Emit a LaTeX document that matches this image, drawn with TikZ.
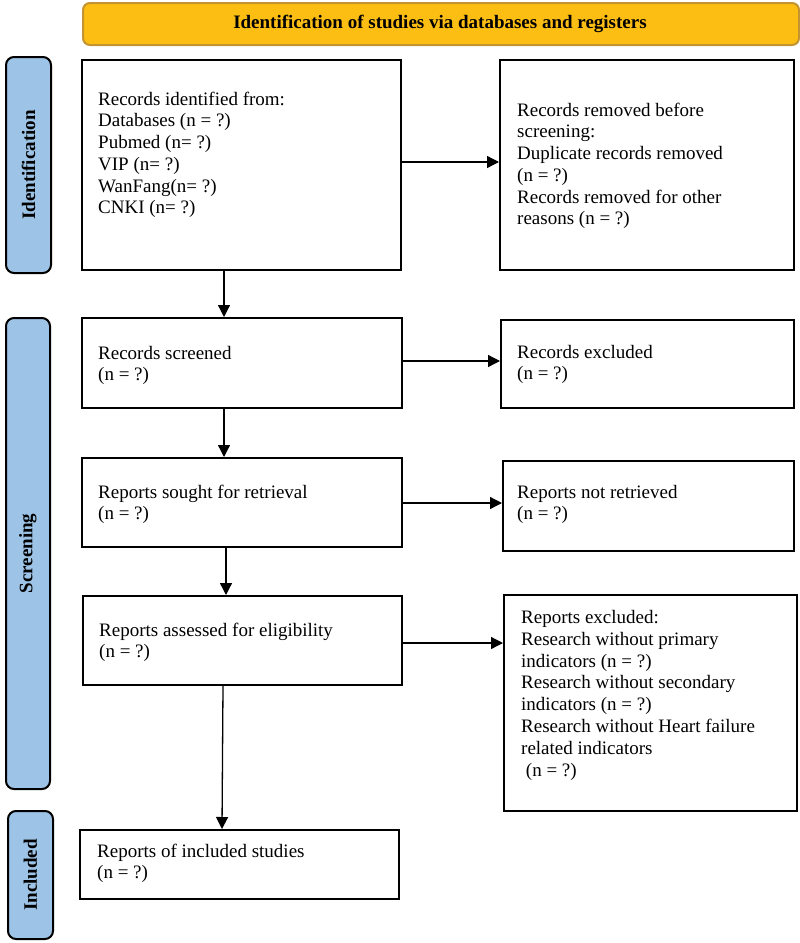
\documentclass[tikz,border=0pt]{standalone}
\usepackage{fontspec}
\setmainfont{Liberation Serif}
\usetikzlibrary{arrows.meta}
\definecolor{titlefill}{RGB}{253,190,20}
\definecolor{titledraw}{RGB}{195,148,48}
\definecolor{sidefill}{RGB}{157,195,230}
\tikzset{
  box/.style={draw=black, line width=2.2pt, fill=white, inner sep=0pt, anchor=north west},
  txt/.style={inner sep=0pt, anchor=north west, align=left, font=\fontsize{19}{21.7}\selectfont},
  side/.style={draw=black, line width=2pt, fill=sidefill, rounded corners=8pt, inner sep=0pt, anchor=north west},
  sidetxt/.style={rotate=90, font=\fontsize{19}{21.7}\selectfont\bfseries},
  arr/.style={line width=1.3pt, -{Triangle[length=12pt,width=12pt]}},
}
\newcommand{\fs}{\rule{0pt}{15pt}}
\begin{document}
\begin{tikzpicture}[x=1pt,y=-1pt]
\useasboundingbox (0,0) rectangle (800,943);
% title
\node[draw=titledraw, line width=2pt, fill=titlefill, rounded corners=7pt, minimum width=716pt, minimum height=42pt, inner sep=0pt, anchor=north west] (title) at (82,2) {};
\node[font=\fontsize{19}{21.7}\selectfont\bfseries] (titletxt) at (440,24) {Identification of studies via databases and registers};
% side labels
\node[side, minimum width=45pt, minimum height=216pt] (sid) at (5,56) {};
\node[sidetxt] (sidt) at (sid.center) {Identification};
\node[side, minimum width=44pt, minimum height=471pt] (sscr) at (5,317) {};
\node[sidetxt] (sscrt) at (sscr.center) {Screening};
\node[side, minimum width=45pt, minimum height=128pt] (sinc) at (7,810) {};
\node[sidetxt] (sinct) at (sinc.center) {Included};
% boxes
\node[box, minimum width=319pt, minimum height=210pt] (b1) at (81,59) {};
\node[txt] (b1t) at (98,90) {\fs Records identified from:\\Databases (n = ?)\\Pubmed (n= ?)\\VIP (n= ?)\\WanFang(n= ?)\\CNKI (n= ?)};
\node[box, minimum width=294pt, minimum height=210pt] (rem) at (499,59) {};
\node[txt] (remt) at (517,101) {\fs Records removed before\\screening:\\Duplicate records removed\\(n = ?)\\Records removed for other\\reasons (n = ?)};
\node[box, minimum width=320pt, minimum height=90pt] (scr) at (81,317) {};
\node[txt] (scrt) at (98,344) {\fs Records screened\\(n = ?)};
\node[box, minimum width=293pt, minimum height=88pt] (exc) at (500,319) {};
\node[txt] (exct) at (517,343) {\fs Records excluded\\(n = ?)};
\node[box, minimum width=320pt, minimum height=89pt] (sou) at (81,457) {};
\node[txt] (sout) at (98,483) {\fs Reports sought for retrieval\\(n = ?)};
\node[box, minimum width=291pt, minimum height=90pt] (nr) at (502,460) {};
\node[txt] (nrt) at (517,483) {\fs Reports not retrieved\\(n = ?)};
\node[box, minimum width=319pt, minimum height=89pt] (ass) at (82,595) {};
\node[txt] (asst) at (99,621) {\fs Reports assessed for eligibility\\(n = ?)};
\node[box, minimum width=293pt, minimum height=216pt] (rex) at (503,594) {};
\node[txt, font=\fontsize{19}{21.9}\selectfont] (rext) at (521,608) {\fs Reports excluded:\\Research without primary\\indicators (n = ?)\\Research without secondary\\indicators (n = ?)\\Research without Heart failure\\related indicators\\\ (n = ?)};
\node[box, minimum width=319pt, minimum height=69pt] (inc) at (79,829) {};
\node[txt] (inct) at (97,842) {\fs Reports of included studies\\(n = ?)};
% vertical arrows
\draw[arr] ([xshift=143pt]b1.south west) -- ([xshift=143pt]scr.north west);
\draw[arr] ([xshift=143pt]scr.south west) -- ([xshift=143pt]sou.north west);
\draw[arr] ([xshift=145pt]sou.south west) -- ([xshift=144pt]ass.north west);
\draw[arr] ([xshift=141pt]ass.south west) -- ([xshift=143pt]inc.north west);
% horizontal arrows
\draw[arr] ([yshift=-103pt]b1.north east) coordinate (h1) -- (h1 -| rem.west);
\draw[arr] ([yshift=-44pt]scr.north east) coordinate (h2) -- (h2 -| exc.west);
\draw[arr] ([yshift=-46pt]sou.north east) coordinate (h3) -- (h3 -| nr.west);
\draw[arr] ([yshift=-48pt]ass.north east) coordinate (h4) -- (h4 -| rex.west);
\end{tikzpicture}
\end{document}
